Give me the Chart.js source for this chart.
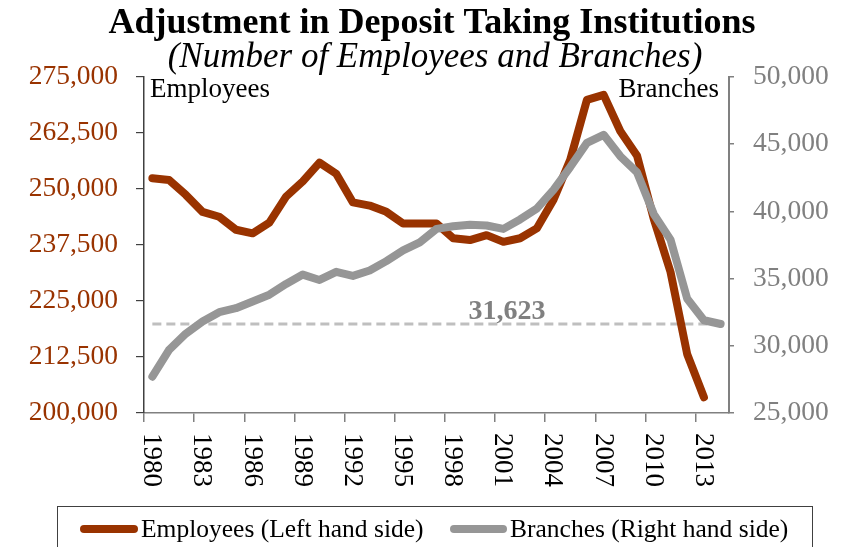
<!DOCTYPE html>
<html>
<head>
<meta charset="utf-8">
<title>Adjustment in Deposit Taking Institutions</title>
<script src="https://cdn.jsdelivr.net/npm/chart.js@4.4.1/dist/chart.umd.min.js"></script>
<style>
    html, body { margin: 0; padding: 0; background: #ffffff; }
    #wrap { width: 849px; height: 547px; }
</style>
</head>
<body>
<div id="wrap"><canvas id="depositChart" width="849" height="547"></canvas></div>
<script>
const yearLabels = [
    '1980', '1981', '1982', '1983', '1984', '1985', '1986', '1987', '1988', '1989',
    '1990', '1991', '1992', '1993', '1994', '1995', '1996', '1997', '1998', '1999',
    '2000', '2001', '2002', '2003', '2004', '2005', '2006', '2007', '2008', '2009',
    '2010', '2011', '2012', '2013', '2014',
];
const shownYears = ['1980', '1983', '1986', '1989', '1992', '1995', '1998', '2001', '2004', '2007', '2010', '2013'];

// left axis: number of employees
const employees = [
    252400, 252000, 248700, 244900, 243800, 240900, 240100, 242500, 248300, 251700,
    255900, 253400, 247000, 246300, 244900, 242300, 242300, 242300, 239000, 238600,
    239700, 238200, 239000, 241200, 247600, 256500, 269900, 271000, 262900, 257400,
    243300, 231500, 213100, 203500, null,
];
// right axis: number of branches
const branches = [
    27700, 29700, 30900, 31800, 32500, 32800, 33300, 33800, 34600, 35300,
    34900, 35500, 35200, 35600, 36300, 37100, 37700, 38700, 38900, 39000,
    38950, 38700, 39400, 40200, 41600, 43300, 45100, 45700, 44100, 42900,
    39800, 37900, 33500, 31900, 31623,
];
const branchLevel = 31623;

const employeeRange = [200000, 275000, 12500];
const branchRange = [25000, 50000, 5000];

const serif = '"Liberation Serif", "Times New Roman", serif';
const brown = '#993300';
const grey = '#969696';

const fmt = (v) => Number(v).toLocaleString('en-US');

const annotations = {
    id: 'annotations',
    beforeDatasetsDraw(chart) {
        const { ctx, scales } = chart;
        const y = scales.yR.getPixelForValue(branchLevel);
        ctx.save();
        ctx.strokeStyle = '#bfbfbf';
        ctx.lineWidth = 3;
        ctx.setLineDash([9, 5]);
        ctx.beginPath();
        ctx.moveTo(scales.x.getPixelForValue(0), y);
        ctx.lineTo(scales.x.getPixelForValue(yearLabels.length - 1), y);
        ctx.stroke();
        ctx.restore();
    },
    afterDraw(chart) {
        const { ctx, scales } = chart;
        ctx.save();
        ctx.textBaseline = 'alphabetic';

        // titles
        ctx.fillStyle = '#000000';
        ctx.textAlign = 'center';
        ctx.font = 'bold 36px ' + serif;
        ctx.fillText('Adjustment in Deposit Taking Institutions', 432, 33);
        ctx.font = 'italic 35px ' + serif;
        ctx.fillText('(Number of Employees and Branches)', 435, 67);

        // corner labels
        ctx.font = '27px ' + serif;
        ctx.textAlign = 'left';
        ctx.fillText('Employees', 150, 97);
        ctx.textAlign = 'right';
        ctx.fillText('Branches', 719, 97);

        // level label
        const yl = scales.yR.getPixelForValue(branchLevel);
        ctx.font = 'bold 28px ' + serif;
        ctx.fillStyle = '#808080';
        ctx.textAlign = 'center';
        ctx.fillText(fmt(branchLevel), 507, yl - 5);

        // rotated year labels
        ctx.fillStyle = '#000000';
        ctx.font = '27px ' + serif;
        ctx.textAlign = 'left';
        ctx.textBaseline = 'middle';
        shownYears.forEach((yr) => {
            const x = scales.x.getPixelForValue(yearLabels.indexOf(yr));
            ctx.save();
            ctx.translate(x, 433);
            ctx.rotate(Math.PI / 2);
            ctx.fillText(yr, 0, 1);
            ctx.restore();
        });

        // legend
        ctx.strokeStyle = '#404040';
        ctx.lineWidth = 1;
        ctx.strokeRect(57.5, 506.5, 755, 60);
        ctx.lineCap = 'round';
        ctx.lineWidth = 8;
        ctx.strokeStyle = brown;
        ctx.beginPath();
        ctx.moveTo(84, 529);
        ctx.lineTo(134, 529);
        ctx.stroke();
        ctx.strokeStyle = grey;
        ctx.beginPath();
        ctx.moveTo(454, 529);
        ctx.lineTo(503, 529);
        ctx.stroke();
        ctx.font = '25.5px ' + serif;
        ctx.fillStyle = '#000000';
        ctx.textBaseline = 'middle';
        ctx.fillText('Employees (Left hand side)', 141, 530);
        ctx.fillText('Branches (Right hand side)', 510, 530);
        ctx.restore();
    },
};

new Chart(document.getElementById('depositChart').getContext('2d'), {
    type: 'line',
    data: {
        labels: yearLabels,
        datasets: [
            {
                label: 'Employees (Left hand side)',
                data: employees,
                yAxisID: 'yL',
                borderColor: brown,
                backgroundColor: brown,
                borderWidth: 8,
                borderCapStyle: 'round',
                borderJoinStyle: 'round',
                pointRadius: 0,
                tension: 0,
                order: 1,
            },
            {
                label: 'Branches (Right hand side)',
                data: branches,
                yAxisID: 'yR',
                borderColor: grey,
                backgroundColor: grey,
                borderWidth: 8,
                borderCapStyle: 'round',
                borderJoinStyle: 'round',
                pointRadius: 0,
                tension: 0,
                order: 0,
            },
        ],
    },
    options: {
        responsive: false,
        animation: false,
        devicePixelRatio: 1,
        layout: { padding: { top: 77, left: 0, right: 0, bottom: 0 } },
        plugins: {
            legend: { display: false },
            tooltip: { enabled: false },
        },
        scales: {
            x: {
                offset: true,
                grid: {
                    offset: true,
                    drawOnChartArea: false,
                    tickLength: 9,
                    lineWidth: 1.5,
                    color: (c) => (c.index % 3 === 0 ? '#808080' : 'rgba(0,0,0,0)'),
                },
                border: { color: '#808080', width: 1.5 },
                ticks: { display: false, autoSkip: false },
                afterFit(scale) { scale.height = 134; },
            },
            yL: {
                position: 'left',
                min: employeeRange[0],
                max: employeeRange[1],
                grid: { drawOnChartArea: false, tickLength: 8, color: '#404040', lineWidth: 1.2 },
                border: { color: '#404040', width: 1.5 },
                ticks: {
                    stepSize: employeeRange[2],
                    color: brown,
                    padding: 18,
                    font: { family: serif, size: 27.5 },
                    callback: (v) => fmt(v),
                },
                afterFit(scale) { scale.width = 144; },
            },
            yR: {
                position: 'right',
                min: branchRange[0],
                max: branchRange[1],
                grid: { drawOnChartArea: false, tickLength: 5, color: '#808080', lineWidth: 1.5 },
                border: { color: '#808080', width: 2 },
                ticks: {
                    stepSize: branchRange[2],
                    color: '#808080',
                    padding: 19,
                    font: { family: serif, size: 27.5 },
                    callback: (v) => fmt(v),
                },
                afterFit(scale) { scale.width = 120; },
            },
        },
    },
    plugins: [annotations],
});
</script>
</body>
</html>
